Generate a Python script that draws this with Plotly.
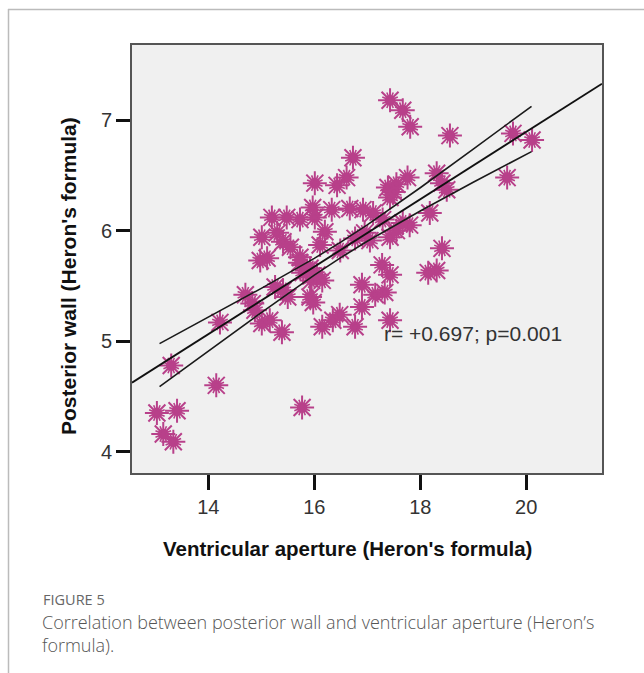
import plotly.graph_objects as go

# Scatter data (Ventricular aperture, Posterior wall)
aperture = [13.03, 13.41, 13.15, 13.34, 13.30, 14.15, 15.77, 14.22, 14.70, 14.83,
            14.88, 15.01, 15.16, 15.39, 15.26, 15.41, 15.50, 15.92, 15.98, 16.15,
            16.15, 15.79, 16.90, 17.28, 17.43, 17.33, 17.15, 16.90, 16.48, 16.35,
            16.77, 17.43, 17.43, 17.67, 17.81, 18.56, 19.75, 20.11, 19.64, 18.31,
            18.41, 18.50, 17.76, 17.39, 17.43, 18.18, 17.67, 17.29, 18.41, 18.15,
            18.31, 16.73, 16.61, 16.43, 16.01, 15.97, 16.01, 16.33, 16.67, 16.92,
            15.48, 15.20, 15.73, 15.01, 15.41, 15.11, 15.73, 15.92, 17.11, 16.49,
            16.77, 17.05, 17.43, 16.11, 16.20, 15.86, 15.73, 14.98, 15.30, 15.95,
            16.05, 17.55, 17.80, 16.95, 15.55, 17.55, 17.50]
posterior = [4.35, 4.37, 4.16, 4.09, 4.78, 4.60, 4.40, 5.17, 5.42, 5.34,
             5.28, 5.16, 5.19, 5.08, 5.49, 5.46, 5.40, 5.40, 5.35, 5.13,
             5.55, 5.62, 5.51, 5.69, 5.60, 5.44, 5.42, 5.31, 5.24, 5.19,
             5.13, 5.19, 7.18, 7.09, 6.94, 6.86, 6.88, 6.82, 6.48, 6.52,
             6.43, 6.37, 6.48, 6.39, 6.30, 6.16, 6.07, 6.10, 5.84, 5.62,
             5.64, 6.66, 6.48, 6.41, 6.43, 6.21, 6.12, 6.19, 6.20, 6.19,
             6.12, 6.12, 6.10, 5.94, 5.90, 5.75, 5.76, 5.66, 6.16, 5.82,
             5.93, 5.91, 5.94, 5.87, 5.99, 5.64, 5.71, 5.73, 5.98, 5.55,
             5.60, 6.00, 6.05, 5.98, 5.85, 6.42, 6.35]

# Fit line and confidence band
fit_x = [12.56, 21.43]
fit_y = [4.624, 7.33]
band_x = [13.08, 14.0, 15.0, 16.0, 16.5, 17.0, 18.0, 19.0, 20.1]
band_upper = [4.978, 5.218, 5.478, 5.749, 5.896, 6.052, 6.388, 6.738, 7.125]
band_lower = [4.588, 4.908, 5.259, 5.597, 5.756, 5.904, 6.178, 6.438, 6.715]

x_ticks = [14, 16, 18, 20]
y_ticks = [4, 5, 6, 7]

MARK = "#B8408A"

fig = go.Figure()
fig.add_trace(go.Scatter(x=aperture, y=posterior, mode="markers",
                         marker=dict(symbol="asterisk-open", size=20, color=MARK,
                                     line=dict(color=MARK, width=2)),
                         hoverinfo="skip", showlegend=False))
fig.add_trace(go.Scatter(x=aperture, y=posterior, mode="markers",
                         marker=dict(symbol="asterisk-open", size=14, color=MARK, angle=22.5,
                                     line=dict(color=MARK, width=1.6)),
                         hoverinfo="skip", showlegend=False))
fig.add_trace(go.Scatter(x=aperture, y=posterior, mode="markers",
                         marker=dict(symbol="circle-open", size=8, color=MARK,
                                     line=dict(color=MARK, width=2.6)),
                         showlegend=False))
fig.add_trace(go.Scatter(x=band_x, y=band_upper, mode="lines",
                         line=dict(color="#1a1a1a", width=1.6), showlegend=False))
fig.add_trace(go.Scatter(x=band_x, y=band_lower, mode="lines",
                         line=dict(color="#1a1a1a", width=1.6), showlegend=False))
fig.add_trace(go.Scatter(x=fit_x, y=fit_y, mode="lines",
                         line=dict(color="#111", width=1.9), showlegend=False))

PL, PR, PT, PB = 132, 602, 45, 473
W, H = 644, 673
pw, ph = PR - PL, PB - PT

def px(x):
    return (x - PL) / pw

def py(y):
    return (PB - y) / ph

tickfont = dict(family="Liberation Sans Narrow, Arial Narrow, Liberation Sans, Arial", size=20, color="#333")
fig.update_layout(
    width=W, height=H,
    margin=dict(l=PL, r=W - PR, t=PT, b=H - PB),
    paper_bgcolor="white", plot_bgcolor="#F0F0F0",
    xaxis=dict(range=[12.56, 21.43], tickvals=x_ticks, ticks="outside", ticklen=15,
               tickwidth=3, tickcolor="#111", showgrid=False, zeroline=False,
               showline=True, mirror=True, linecolor="#555", linewidth=2,
               tickfont=tickfont),
    yaxis=dict(range=[3.807, 7.68], tickvals=y_ticks, ticks="outside", ticklen=14,
               tickwidth=3, tickcolor="#111", showgrid=False, zeroline=False,
               showline=True, mirror=True, linecolor="#555", linewidth=2,
               tickfont=tickfont),
    annotations=[
        dict(x=17.28, y=5.07, xref="x", yref="y", text="r= +0.697; p=0.001",
             showarrow=False, xanchor="left", yanchor="middle",
             font=dict(family="Liberation Sans, Arial", size=21, color="#333")),
        dict(x=px(347), y=py(548), xref="paper", yref="paper",
             text="<b>Ventricular aperture (Heron's formula)</b>", showarrow=False,
             xanchor="center", yanchor="middle",
             font=dict(family="Liberation Sans, Arial", size=20.5, color="#111")),
        dict(x=px(68), y=py(276), xref="paper", yref="paper", textangle=-90,
             text="<b>Posterior wall (Heron's formula)</b>", showarrow=False,
             xanchor="center", yanchor="middle",
             font=dict(family="Liberation Sans, Arial", size=21, color="#111")),
        dict(x=px(41), y=py(599), xref="paper", yref="paper", text="FIGURE 5",
             showarrow=False, xanchor="left", yanchor="middle",
             font=dict(family="Open Sans", size=14.5, color="#666")),
        dict(x=px(40), y=py(622), xref="paper", yref="paper",
             text="Correlation between posterior wall and ventricular aperture (Heron’s",
             showarrow=False, xanchor="left", yanchor="middle",
             font=dict(family="Open Sans", size=18, color="#555", weight=300)),
        dict(x=px(40), y=py(645), xref="paper", yref="paper", text="formula).",
             showarrow=False, xanchor="left", yanchor="middle",
             font=dict(family="Open Sans", size=18, color="#555", weight=300)),
    ],
    shapes=[
        dict(type="line", xref="paper", yref="paper", x0=px(8), x1=px(W), y0=py(9.5), y1=py(9.5),
             line=dict(color="#BBBBBB", width=1.5)),
        dict(type="line", xref="paper", yref="paper", x0=px(8.5), x1=px(8.5), y0=py(9), y1=py(H),
             line=dict(color="#BBBBBB", width=1.5)),
    ],
)

fig.write_html("out.html", config={"displayModeBar": False},
               post_script="document.body.style.margin='0';document.body.style.overflow='hidden';")
